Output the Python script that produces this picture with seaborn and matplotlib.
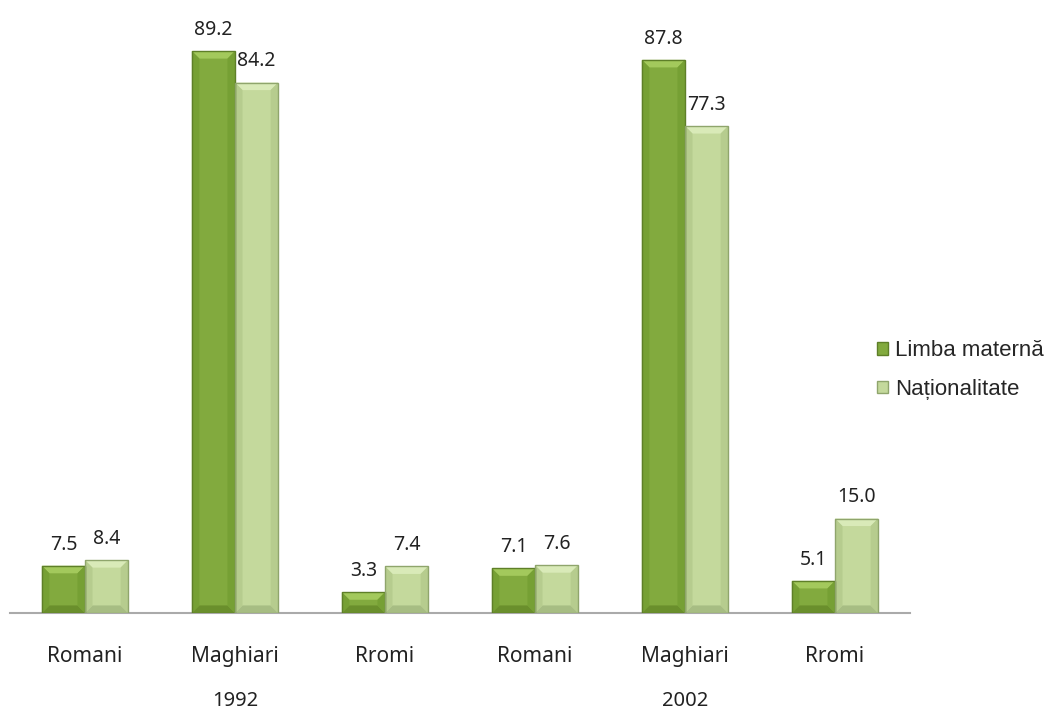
import pandas as pd
import seaborn as sns
import matplotlib.pyplot as plt
from matplotlib.patches import Patch, Polygon

# ---- data ----
years = ['1992', '2002']
groups = ['Romani', 'Maghiari', 'Rromi']
limba_materna = [7.5, 89.2, 3.3, 7.1, 87.8, 5.1]
nationalitate = [8.4, 84.2, 7.4, 7.6, 77.3, 15.0]
series = ['Limba maternă', 'Naționalitate']

keys = [f'{y} {g}' for y in years for g in groups]
tick_labels = [g for y in years for g in groups]

df = pd.DataFrame({
    'key': keys * 2,
    'serie': [series[0]] * 6 + [series[1]] * 6,
    'val': limba_materna + nationalitate,
})

sns.set_theme(style="white")
plt.rcParams['font.family'] = ['Noto Sans', 'DejaVu Sans']

fill = ['#82aa3e', '#c4d99c']
edge = ['#5e7f28', '#8fa56c']
# bevel colours: top, bottom, sides
bevel = [('#a3c95c', '#6a8f2c', '#76a034'), ('#d9eab8', '#a7bd83', '#b6cc8e')]

fig = plt.figure(figsize=(10.57, 7.14), dpi=100)
ax = fig.add_axes([10 / 1057, 101 / 714, 900 / 1057, 598.5 / 714])

sns.barplot(data=df, x='key', y='val', hue='serie', order=keys, hue_order=series,
            palette=fill, saturation=1, width=0.575, errorbar=None, ax=ax, legend=False)

ax.set_ylim(0, 95)
ax.set_xlim(-0.5, 5.5)

# bevel look, built from each bar's own geometry
bx, by = 0.05, 1.2
for i, container in enumerate(ax.containers):
    top_c, bot_c, side_c = bevel[i]
    for bar in container:
        x0, y0 = bar.get_x(), bar.get_y()
        w, h = bar.get_width(), bar.get_height()
        x1, y1 = x0 + w, y0 + h
        b = min(by, h / 2)
        bxx = bx * b / by
        ax.add_patch(plt.Rectangle((x0, y0), w, h, facecolor=fill[i], edgecolor='none', zorder=2))
        ax.add_patch(Polygon([(x0, y1), (x1, y1), (x1 - bxx, y1 - b), (x0 + bxx, y1 - b)],
                             facecolor=top_c, edgecolor='none', zorder=3))
        ax.add_patch(Polygon([(x0, y0), (x1, y0), (x1 - bxx, y0 + b), (x0 + bxx, y0 + b)],
                             facecolor=bot_c, edgecolor='none', zorder=3))
        ax.add_patch(Polygon([(x0, y0), (x0 + bxx, y0 + b), (x0 + bxx, y1 - b), (x0, y1)],
                             facecolor=side_c, edgecolor='none', zorder=3))
        ax.add_patch(Polygon([(x1, y0), (x1 - bxx, y0 + b), (x1 - bxx, y1 - b), (x1, y1)],
                             facecolor=side_c, edgecolor='none', zorder=3))
        bar.set_edgecolor(edge[i])
        bar.set_linewidth(1.0)
        bar.set_zorder(4)
        bar.set_facecolor('none')
    ax.bar_label(container, fmt='%.1f', padding=8, fontsize=14, color='#222222')

ax.set_xlabel('')
ax.set_ylabel('')
ax.set_yticks([])
for s in ['top', 'right', 'left']:
    ax.spines[s].set_visible(False)
ax.spines['bottom'].set_color('#aaaaaa')
ax.spines['bottom'].set_linewidth(1.5)
ax.set_xticks(range(6))
ax.set_xticklabels(tick_labels, fontsize=15, color='#222222')
ax.tick_params(axis='x', length=0, pad=24)

# year labels under groups
for j, y in enumerate(years):
    ax.text(1 + 3 * j, -14.0, y, ha='center', va='center', fontsize=14.5,
            color='#222222', transform=ax.transData, clip_on=False)

handles = [Patch(facecolor=fill[k], edgecolor=edge[k]) for k in range(2)]
fig.legend(handles, series, loc='center left', bbox_to_anchor=(866 / 1057, 1 - 370 / 714),
           frameon=False, prop={'family': 'Liberation Sans', 'size': 16}, borderpad=0,
           handlelength=0.5, handleheight=0.5, handletextpad=0.3, labelspacing=0.8)

fig.savefig('out.png', dpi=100)
